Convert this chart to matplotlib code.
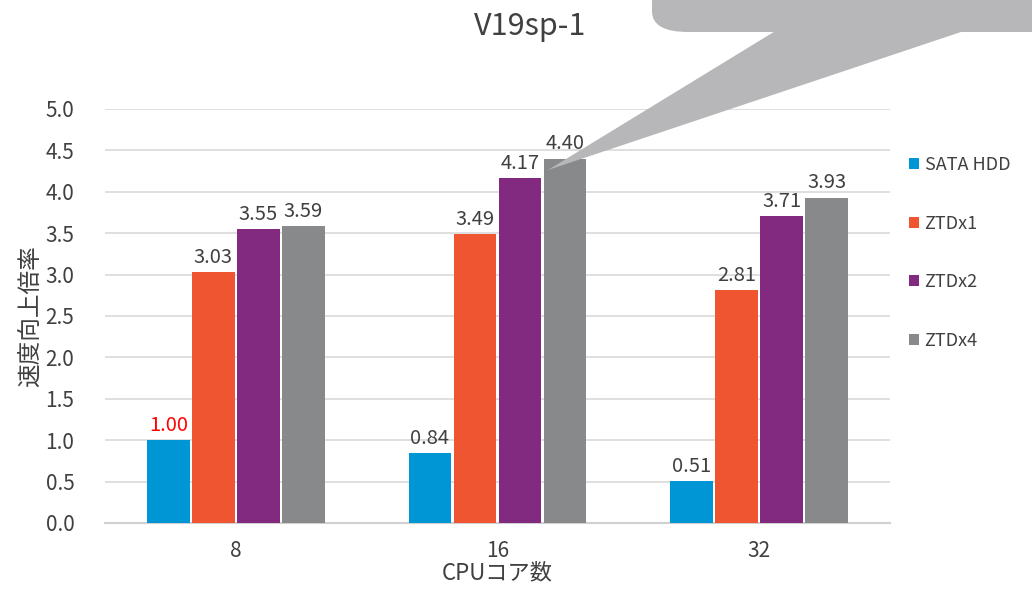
import matplotlib.pyplot as plt
import numpy as np
from matplotlib.patches import FancyBboxPatch, Polygon

plt.rcParams['font.family'] = ['Noto Sans CJK JP', 'DejaVu Sans']

# data
cores = ['8', '16', '32']
series = ['SATA HDD', 'ZTDx1', 'ZTDx2', 'ZTDx4']
sata_hdd = [1.00, 0.84, 0.51]
ztd_x1 = [3.03, 3.49, 2.81]
ztd_x2 = [3.55, 4.17, 3.71]
ztd_x4 = [3.59, 4.40, 3.93]
colors = ['#0096D6', '#F05532', '#822980', '#87898B']
text_col = '#404040'

fig = plt.figure(figsize=(10.32, 5.9), dpi=100)
ax = fig.add_axes([0.1017, 0.1136, 0.7607, 0.7017])

x = np.arange(len(cores))
step = 0.172
width = 0.163
values = [sata_hdd, ztd_x1, ztd_x2, ztd_x4]
for i, (name, vals) in enumerate(zip(series, values)):
    pos = x + (i - 1.5) * step
    ax.bar(pos, vals, width, color=colors[i], label=name, zorder=3)
    for px, v in zip(pos, vals):
        c = 'red' if (i == 0 and v == 1.00) else text_col
        ax.annotate(f'{v:.2f}', (px, v), xytext=(0, 3), textcoords='offset points',
                    ha='center', va='bottom', fontsize=14.5, color=c)

ax.set_xlim(-0.5, 2.5)
ax.set_ylim(0, 5)
ticks = np.arange(0, 5.01, 0.5)
ax.set_yticks(ticks)
ax.set_yticklabels([f'{t:.1f}' for t in ticks], fontsize=15)
ax.set_xticks(x)
ax.set_xticklabels(cores, fontsize=15)
ax.tick_params(length=0, colors=text_col, pad=12)
ax.tick_params(axis='y', pad=22)
ax.grid(axis='y', color='#D9D9D9', linewidth=1.2, zorder=0)
for s in ['top', 'right', 'left']:
    ax.spines[s].set_visible(False)
ax.spines['bottom'].set_color('#D0D0D0')
ax.spines['bottom'].set_linewidth(1.5)

ax.set_xlabel('CPUコア数', fontsize=16, color=text_col, labelpad=0)
ax.set_ylabel('速度向上倍率', fontsize=17, color=text_col, labelpad=2)

fig.text(0.514, 0.955, 'V19sp-1', ha='center', va='center', fontsize=22, color=text_col)

# callout balloon (cut off at the top edge)
W, H = 1032, 590
def fc(px, py):
    return (px / W, 1 - py / H)

box = FancyBboxPatch(fc(652, 32), (1100 - 652) / W, 60 / H,
                     boxstyle='round,pad=0,rounding_size=0.035',
                     transform=fig.transFigure, facecolor='#B7B7B9', edgecolor='none', zorder=5)
fig.patches.append(box)
tail = Polygon([fc(777, 30), fc(967, 30), fc(548, 170)], closed=True,
               transform=fig.transFigure, facecolor='#B7B7B9', edgecolor='none', zorder=5)
fig.patches.append(tail)

leg = fig.legend(loc='upper left', bbox_to_anchor=(0.874, 0.748), frameon=False,
                 fontsize=13, handlelength=0.55, handleheight=0.55, handletextpad=0.3,
                 labelspacing=2.25, borderaxespad=0)
for t in leg.get_texts():
    t.set_color(text_col)

fig.savefig('out.png', dpi=100)
